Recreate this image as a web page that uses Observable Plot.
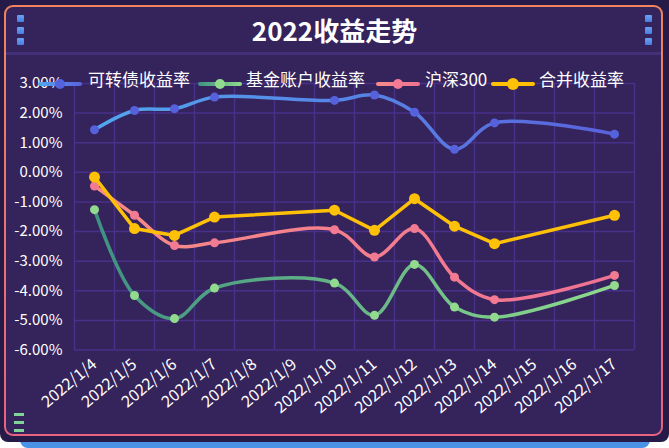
<!DOCTYPE html>
<html><head><meta charset="utf-8">
<script src="https://cdn.jsdelivr.net/npm/d3@7"></script>
<script src="https://cdn.jsdelivr.net/npm/@observablehq/plot@0.6"></script>
<style>
html,body{margin:0;padding:0;background:#fff;width:669px;height:448px;overflow:hidden;font-family:"Noto Sans CJK SC","Noto Sans",sans-serif;}
#wrap{position:relative;width:669px;height:448px;}
.bluebar{position:absolute;left:20px;top:434px;width:630px;height:14px;background:#4a92e6;border-radius:0 0 8px 8px;}
.frame{position:absolute;left:0;top:0;width:669px;height:442px;background:#261b48;border-radius:0 0 8px 8px;}
.border{position:absolute;left:4px;top:5px;width:659px;height:431px;border-radius:9px;background:linear-gradient(#f2835c,#e8637f);}
.panel{position:absolute;left:2px;top:2px;right:2px;bottom:2px;border-radius:7px;background:#35235b;}
.sep{position:absolute;left:6px;width:655px;top:52px;height:3px;background:#43307a;}
.title{position:absolute;left:0;width:669px;top:12px;text-align:center;color:#fff;font-size:26px;font-weight:bold;line-height:36px;}
.sq{position:absolute;width:7px;height:7px;background:linear-gradient(#6aa0f5,#4a7de2);border-radius:1px;}
.gl{position:absolute;left:14px;width:10px;height:2.5px;background:#7fd49a;}
.leg{position:absolute;top:68px;color:#fff;font-size:17px;line-height:22px;white-space:nowrap;}
.icon{position:absolute;top:72px;}
#chart{position:absolute;left:0;top:0;}
</style></head>
<body><div id="wrap">
<div class="bluebar"></div>
<div class="frame"></div>
<div class="border"><div class="panel"></div></div>
<div class="sep"></div>
<div class="title">2022收益走势</div>
<div class="sq" style="left:17px;top:15px"></div>
<div class="sq" style="left:17px;top:26.5px"></div>
<div class="sq" style="left:17px;top:38px"></div>
<div class="sq" style="left:645px;top:15px"></div>
<div class="sq" style="left:645px;top:26.5px"></div>
<div class="sq" style="left:645px;top:38px"></div>
<div class="gl" style="top:413px"></div>
<div class="gl" style="top:421px"></div>
<div class="gl" style="top:429px"></div>
<div id="chart"></div>
<div id="legend"></div>
</div>
<script>
const dates = ["2022/1/4","2022/1/5","2022/1/6","2022/1/7","2022/1/8","2022/1/9","2022/1/10","2022/1/11","2022/1/12","2022/1/13","2022/1/14","2022/1/15","2022/1/16","2022/1/17"];
const seriesNames = ["可转债收益率","基金账户收益率","沪深300","合并收益率"];
const cbRate   = [1.44, 2.09, 2.15, 2.54, null, null, 2.43, 2.61, 2.03, 0.78, 1.67, null, null, 1.29];
const fundRate = [-1.26, -4.16, -4.94, -3.91, null, null, -3.74, -4.83, -3.11, -4.55, -4.89, null, null, -3.82];
const hs300    = [-0.46, -1.45, -2.47, -2.38, null, null, -1.94, -2.86, -1.90, -3.54, -4.30, null, null, -3.48];
const combined = [-0.16, -1.90, -2.13, -1.51, null, null, -1.28, -1.96, -0.89, -1.82, -2.41, null, null, -1.45];
const yTicks = [-6, -5, -4, -3, -2, -1, 0, 1, 2, 3];

const toRows = arr => arr.map((v, i) => ({i, v})).filter(d => d.v != null);

const styles = [
  {line: "url(#gBlue)", dot: "#5661dc", r: 4.5, curve: "catmull-rom"},
  {line: "url(#gGreen)", dot: "#92db8e", r: 4.5, curve: "catmull-rom"},
  {line: "url(#gPink)", dot: "#f27a92", r: 4.5, curve: "catmull-rom"},
  {line: "#ffc107", dot: "#ffc107", r: 5.5, curve: "linear"}
];
const grads = [["gBlue", "#52a6ee", "#5a62dc"], ["gGreen", "#3f9182", "#8edb8d"], ["gPink", "#f78b88", "#ef7293"]];

const defsMark = () => {
  const ns = "http://www.w3.org/2000/svg";
  const defs = document.createElementNS(ns, "defs");
  for (const [id, c1, c2] of grads) {
    const g = document.createElementNS(ns, "linearGradient");
    g.setAttribute("id", id);
    g.setAttribute("x1", "0"); g.setAttribute("x2", "1"); g.setAttribute("y1", "0"); g.setAttribute("y2", "0");
    [[0, c1], [1, c2]].forEach(([o, c]) => {
      const s = document.createElementNS(ns, "stop");
      s.setAttribute("offset", o); s.setAttribute("stop-color", c);
      g.appendChild(s);
    });
    defs.appendChild(g);
  }
  return defs;
};

const allSeries = [cbRate, fundRate, hs300, combined];
const seriesMarks = allSeries.flatMap((arr, k) => {
  const rows = toRows(arr), st = styles[k];
  return [
    Plot.line(rows, {x: "i", y: "v", stroke: st.line, strokeWidth: 3.5, curve: st.curve}),
    Plot.dot(rows, {x: "i", y: "v", r: st.r, fill: st.dot, stroke: "none"})
  ];
});

const chart = Plot.plot({
  width: 669, height: 448,
  marginLeft: 74, marginRight: 35, marginTop: 83, marginBottom: 98.5,
  style: {background: "transparent", color: "#fff", fontSize: "15px", fontFamily: '"Noto Sans CJK SC","Noto Sans",sans-serif', overflow: "visible"},
  x: {domain: [-0.5, dates.length - 0.5], axis: null},
  y: {domain: [-6, 3], axis: null},
  marks: [
    defsMark,
    Plot.ruleY(yTicks, {stroke: "#48318a", strokeWidth: 1.5}),
    Plot.ruleX(d3.range(dates.length + 1).map(i => i - 0.5), {y1: -6, y2: 3, stroke: "#48318a", strokeWidth: 1.5}),
    Plot.axisY(yTicks, {label: null, tickSize: 0, tickPadding: 12, tickFormat: d => d.toFixed(2) + "%", fontSize: 15}),
    Plot.axisX(d3.range(dates.length), {label: null, tickSize: 0, tickPadding: 12, tickRotate: -40, tickFormat: i => dates[i], fontSize: 16}),
    ...seriesMarks
  ]
});
document.getElementById("chart").appendChild(chart);

// legend
const legendPos = [[38, 88], [198, 246], [376, 425], [491, 539]];
const lineColors = [["#52a6ee", "#5a62dc"], ["#3f9182", "#8edb8d"], ["#f78b88", "#ef7293"], ["#ffc107", "#ffc107"]];
const leg = document.getElementById("legend");
seriesNames.forEach((name, k) => {
  const [ix, tx] = legendPos[k];
  const [c1, c2] = lineColors[k];
  const r = styles[k].r;
  const icon = document.createElement("div");
  icon.className = "icon";
  icon.style.left = ix + "px";
  icon.innerHTML = `<svg width="44" height="14"><defs><linearGradient id="lg${k}" x1="0" x2="1"><stop offset="0" stop-color="${c1}"/><stop offset="1" stop-color="${c2}"/></linearGradient></defs><rect x="0" y="5" width="44" height="4" rx="2" fill="url(#lg${k})"/><circle cx="22" cy="7" r="${r + 0.5}" fill="${styles[k].dot}"/></svg>`;
  leg.appendChild(icon);
  const t = document.createElement("div");
  t.className = "leg";
  t.style.left = tx + "px";
  t.textContent = name;
  leg.appendChild(t);
});
</script>
</body></html>
